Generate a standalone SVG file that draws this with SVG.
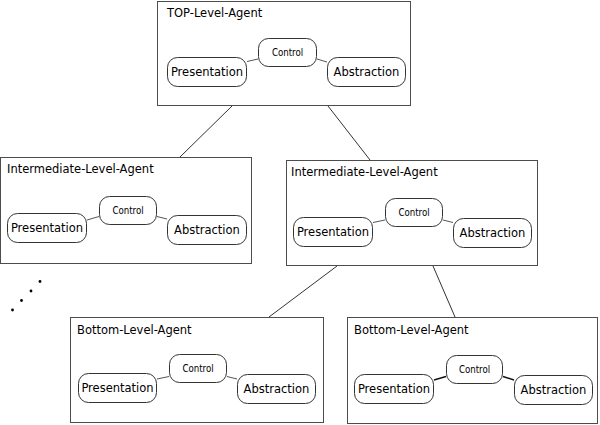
<svg xmlns="http://www.w3.org/2000/svg" width="600" height="425" viewBox="0 0 600 425">
<style>
.agent{fill:#fff;stroke:#4d4d4d;stroke-width:1}
.comp{fill:#fff;stroke:#333;stroke-width:1}
.title{font-family:"DejaVu Sans",sans-serif;font-size:11.5px;fill:#000}
.lbl{font-family:"DejaVu Sans",sans-serif;font-size:11.5px;fill:#000;text-anchor:middle}
.ctl{font-family:"DejaVu Sans Condensed","DejaVu Sans",sans-serif;font-stretch:condensed;font-size:9.6px;fill:#000;text-anchor:middle}
.link{stroke:#333;stroke-width:1;fill:none}
.inner{stroke:#555;stroke-width:1;fill:none}
.dark{stroke:#111;stroke-width:1.4;fill:none}
</style>
<rect width="600" height="425" fill="#fff"/>
<g id="connectors">
<line class="link" x1="232" y1="106" x2="180" y2="157"/>
<line class="link" x1="328" y1="106" x2="370" y2="160"/>
<line class="link" x1="337" y1="266" x2="269" y2="317"/>
<line class="link" x1="433" y1="266" x2="455" y2="317"/>
</g>
<g id="top-agent">
<rect class="agent" x="157.5" y="1.5" width="253" height="104"/>
<text class="title" x="167" y="17">TOP-Level-Agent</text>
<line class="inner" x1="247" y1="61.5" x2="258" y2="59"/>
<line class="inner" x1="317" y1="59" x2="327" y2="62"/>
<rect class="comp" x="258.5" y="38.5" width="58" height="28" rx="10"/>
<text class="ctl" x="287.5" y="56">Control</text>
<rect class="comp" x="167.5" y="57.5" width="79" height="29" rx="10"/>
<text class="lbl" x="207" y="76">Presentation</text>
<rect class="comp" x="327.5" y="57.5" width="78" height="29" rx="10"/>
<text class="lbl" x="366.5" y="76">Abstraction</text>
</g>
<g id="intermediate-left">
<rect class="agent" x="0.5" y="157.5" width="251" height="106"/>
<text class="title" x="7" y="173">Intermediate-Level-Agent</text>
<line class="inner" x1="87" y1="220" x2="99" y2="216.5"/>
<line class="inner" x1="157" y1="216.5" x2="167" y2="219"/>
<rect class="comp" x="99.5" y="196.5" width="57" height="28" rx="10"/>
<text class="ctl" x="128" y="214">Control</text>
<rect class="comp" x="7.5" y="213.5" width="79" height="29" rx="10"/>
<text class="lbl" x="47" y="232">Presentation</text>
<rect class="comp" x="167.5" y="215.5" width="79" height="29" rx="10"/>
<text class="lbl" x="207" y="234">Abstraction</text>
</g>
<g id="intermediate-right">
<rect class="agent" x="286.5" y="160.5" width="251" height="105"/>
<text class="title" x="291" y="176">Intermediate-Level-Agent</text>
<line class="inner" x1="373" y1="222.5" x2="385" y2="220"/>
<line class="inner" x1="443" y1="220" x2="453" y2="222.5"/>
<rect class="comp" x="385.5" y="198.5" width="57" height="28" rx="10"/>
<text class="ctl" x="414" y="216">Control</text>
<rect class="comp" x="293.5" y="217.5" width="79" height="29" rx="10"/>
<text class="lbl" x="333" y="236">Presentation</text>
<rect class="comp" x="453.5" y="218.5" width="78" height="29" rx="10"/>
<text class="lbl" x="492.5" y="237">Abstraction</text>
</g>
<g id="ellipsis">
<circle cx="40" cy="281.5" r="1.4" fill="#000"/>
<circle cx="31" cy="291" r="1.4" fill="#000"/>
<circle cx="21.5" cy="300.5" r="1.4" fill="#000"/>
<circle cx="12.5" cy="310" r="1.4" fill="#000"/>
</g>
<g id="bottom-left">
<rect class="agent" x="70.5" y="317.5" width="253" height="105"/>
<text class="title" x="77" y="334">Bottom-Level-Agent</text>
<line class="inner" x1="157" y1="379" x2="169" y2="376.5"/>
<line class="inner" x1="227" y1="376.5" x2="237" y2="379"/>
<rect class="comp" x="169.5" y="354.5" width="57" height="28" rx="10"/>
<text class="ctl" x="198" y="372">Control</text>
<rect class="comp" x="78.5" y="373.5" width="78" height="29" rx="10"/>
<text class="lbl" x="117.5" y="392">Presentation</text>
<rect class="comp" x="237.5" y="374.5" width="78" height="29" rx="10"/>
<text class="lbl" x="276.5" y="393">Abstraction</text>
</g>
<g id="bottom-right">
<rect class="agent" x="347.5" y="317.5" width="250" height="106"/>
<text class="title" x="354" y="334">Bottom-Level-Agent</text>
<line class="dark" x1="434" y1="380" x2="446" y2="376.5"/>
<line class="dark" x1="503" y1="376.5" x2="514" y2="380"/>
<rect class="comp" x="446.5" y="355.5" width="56" height="28" rx="10"/>
<text class="ctl" x="474.5" y="373">Control</text>
<rect class="comp" x="354.5" y="374.5" width="79" height="29" rx="10"/>
<text class="lbl" x="394" y="393">Presentation</text>
<rect class="comp" x="514.5" y="375.5" width="78" height="29" rx="10"/>
<text class="lbl" x="553.5" y="394">Abstraction</text>
</g>
</svg>
